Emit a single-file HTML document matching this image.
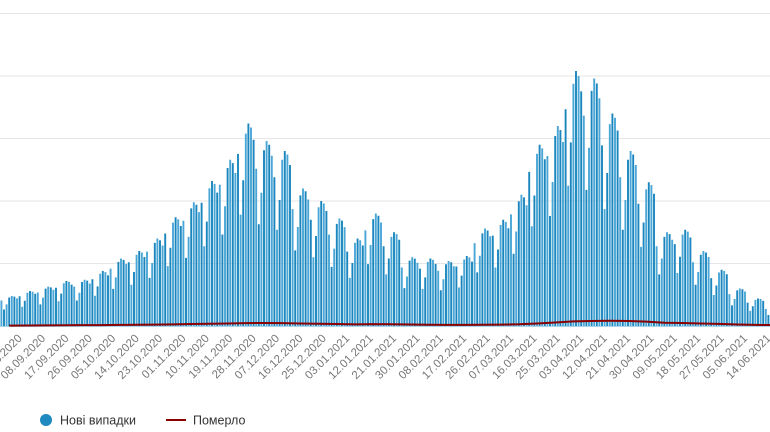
<!DOCTYPE html>
<html><head><meta charset="utf-8"><style>
body{margin:0;background:#fff;}
svg{display:block;font-family:"Liberation Sans",sans-serif;}
</style></head><body>
<svg id="chart" width="770" height="432">
<g id="grid"></g>
<g id="bars"></g>
<g id="deaths"></g>
<g id="xlabels"></g>
<g>
<circle cx="46" cy="420" r="6" fill="#1f8ac0"></circle>
<text x="60" y="424.5" font-size="12.5" fill="#333">Нові випадки</text>
<line x1="166" y1="420" x2="186" y2="420" stroke="#8b0000" stroke-width="2"></line>
<text x="193" y="424.5" font-size="12.5" fill="#333">Померло</text>
</g>
</svg>
<script>
const startDate = [2020, 7, 23];
const newCases = [
2040,1320,1730,2280,2400,2350,2210,
2380,1540,2020,2660,2800,2740,2580,
2680,1730,2270,2990,3150,3090,2900,
3060,1980,2590,3420,3600,3530,3310,
3150,2040,2660,3520,3700,3630,3400,
3740,2420,3170,4180,4400,4310,4050,
4590,2970,3890,5130,5400,5290,4970,
5100,3300,4320,5700,6000,5880,5520,
5950,3850,5040,6650,7000,6860,6440,
7400,4790,6260,8270,8700,8530,8000,
8420,5450,7130,9410,9900,9700,9110,
9860,6380,8350,11020,11600,11370,10670,
11300,7320,9580,12640,13300,13030,12240,
13770,8910,11660,15390,16200,15880,14900,
12580,8140,10660,14060,14800,14500,13620,
11900,7700,10080,13300,14000,13720,12880,
9350,6050,7920,10450,11000,10780,10120,
8500,5500,7200,9500,10000,9800,9200,
7310,4730,6190,8170,8600,8430,7910,
5950,3850,5040,6650,7000,6860,6440,
7650,4950,6480,8550,9000,8820,8280,
6380,4130,5400,7130,7500,7350,6900,
4680,3030,3960,5230,5500,5390,5060,
4590,2970,3890,5130,5400,5290,4970,
4420,2860,3740,4940,5200,5100,4780,
4760,3080,4030,5320,5600,5490,5150,
6630,4290,5620,7410,7800,7640,7180,
7230,4680,6120,8080,8500,8330,7820,
8930,5780,7560,9980,10500,10290,9660,
12330,7980,10440,13780,14500,14210,13340,
13600,8800,11520,15200,16000,15680,14720,
17340,11220,14690,19380,20400,19990,18770,
16830,10890,14260,18810,19800,19400,18220,
14450,9350,12240,16150,17000,16660,15640,
11900,7700,10080,13300,14000,13720,12880,
9780,6330,8280,10930,11500,11270,10580,
6380,4130,5400,7130,7500,7350,6900,
6550,4240,5540,7320,7700,7550,7080,
5100,3300,4320,5700,6000,5880,5520,
3830,2480,3240,4280,4500,4410,4140,
2550,1650,2160,2850,3000,2940,2760,
1870,1210,1580,2090,2200,2160,2020,
1360,880,1150,1520];
const weeklyDeaths = [35,40,50,60,70,75,85,100,110,130,160,180,200,230,240,230,200,180,160,130,150,140,120,100,90,90,100,110,140,200,280,370,400,420,400,350,260,240,200,170,120,90,70];
const yTicks = [0,5000,10000,15000,20000,25000];

const NS = "http://www.w3.org/2000/svg";
const X0 = 1.4, DX = 2.6, BASE = 326, TOP = 13.5, YMAX = 25000;
const x = i => X0 + i * DX;
const y = v => BASE - (v / YMAX) * (BASE - TOP);
function mk(tag, parent) { const e = document.createElementNS(NS, tag); parent.appendChild(e); return e; }

const grid = document.getElementById('grid');
yTicks.forEach(t => {
  if (t === 0) return;
  const l = mk('line', grid);
  
  
  l.setAttribute('x1', 0); l.setAttribute('x2', 770);
  l.setAttribute('y1', y(t)); l.setAttribute('y2', y(t));
  l.setAttribute('stroke', '#e6e6e6'); l.setAttribute('stroke-width', 1);
});

const bars = document.getElementById('bars');
newCases.forEach((v, i) => {
  const r = mk('rect', bars);
  
  
  r.setAttribute('x', x(i) - 0.95); r.setAttribute('width', 1.9);
  r.setAttribute('y', y(v)); r.setAttribute('height', BASE - y(v));
  r.setAttribute('fill', i % 2 ? '#1a86bd' : '#4aa6d6');
});

const base = mk('line', bars);


base.setAttribute('x1', 0); base.setAttribute('x2', 770);
base.setAttribute('y1', BASE + 0.5); base.setAttribute('y2', BASE + 0.5);
base.setAttribute('stroke', '#a8d3ea');

const dg = document.getElementById('deaths');
const pts = weeklyDeaths.map((d, w) => [x(w * 7 + 3), y(d)]);
const p = mk('polyline', dg);


p.setAttribute('points', pts.map(q => q[0].toFixed(1) + ',' + q[1].toFixed(1)).join(' '));
p.setAttribute('fill', 'none'); p.setAttribute('stroke', '#8b0000'); p.setAttribute('stroke-width', 2);

const xl = document.getElementById('xlabels');
const d0 = new Date(startDate[0], startDate[1], startDate[2]);
for (let i = 7; i < newCases.length; i += 9) {
  const d = new Date(d0.getTime()); d.setDate(d0.getDate() + i);
  const s = String(d.getDate()).padStart(2, '0') + '.' + String(d.getMonth() + 1).padStart(2, '0') + '.' + d.getFullYear();
  const t = mk('text', xl);
  
  
  const tx = x(i) + 3, ty = 339;
  t.setAttribute('x', tx); t.setAttribute('y', ty);
  t.setAttribute('text-anchor', 'end');
  t.setAttribute('font-size', '11.5');
  t.setAttribute('fill', '#777');
  t.setAttribute('transform', `rotate(-45 ${tx} ${ty})`);
  t.textContent = s;
}
</script>
</body></html>
